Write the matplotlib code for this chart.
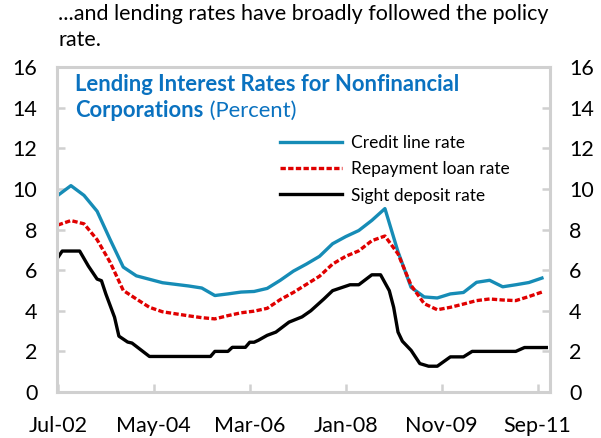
import matplotlib
matplotlib.use('Agg')
import matplotlib.pyplot as plt

# months counted from Jul-02 (0 = Jul-02)
tick_pos = [0, 22, 44, 66, 88, 110]
tick_labels = ['Jul-02', 'May-04', 'Mar-06', 'Jan-08', 'Nov-09', 'Sep-11']

credit_m = list(range(0, 112, 3))
credit = [9.68, 10.16, 9.68, 8.9, 7.5, 6.15, 5.72, 5.55, 5.38, 5.3, 5.22, 5.12,
          4.75, 4.83, 4.92, 4.95, 5.1, 5.5, 5.95, 6.3, 6.68, 7.3, 7.65, 7.95,
          8.45, 9.03, 6.9, 5.15, 4.68, 4.63, 4.83, 4.9, 5.4, 5.5, 5.18, 5.28,
          5.39, 5.61]

repay_m = list(range(0, 112, 3))
repay = [8.22, 8.44, 8.28, 7.5, 6.38, 5.0, 4.58, 4.17, 3.95, 3.85, 3.75, 3.66,
         3.6, 3.76, 3.9, 3.98, 4.12, 4.55, 4.9, 5.3, 5.7, 6.3, 6.68, 6.95,
         7.45, 7.68, 6.8, 5.25, 4.35, 4.05, 4.17, 4.33, 4.5, 4.58, 4.53, 4.5,
         4.7, 4.92]

sight_m = [0, 1, 5, 7, 9, 10, 11, 13, 14, 16, 17, 21, 35, 36, 39, 40, 43, 44,
           45, 46, 48, 50, 53, 56, 58, 61, 63, 67, 69, 72, 74, 76, 77, 78, 79,
           81, 83, 85, 87, 90, 93, 95, 105, 107, 112]
sight = [6.62, 6.94, 6.94, 6.2, 5.56, 5.48, 4.83, 3.68, 2.75, 2.46, 2.41, 1.75,
         1.75, 2.0, 2.0, 2.2, 2.2, 2.45, 2.45, 2.55, 2.79, 2.95, 3.44, 3.7,
         4.0, 4.58, 4.99, 5.28, 5.28, 5.77, 5.77, 4.99, 4.17, 2.95, 2.5, 2.05,
         1.4, 1.27, 1.27, 1.73, 1.73, 2.0, 2.0, 2.19, 2.19]

plt.rcParams['font.family'] = ['Lato', 'DejaVu Sans']

fig = plt.figure(figsize=(6.01, 4.38), dpi=100)
ax = fig.add_axes([0.0948, 0.105, 0.820, 0.742])

ax.plot(credit_m, credit, color='#168cb6', lw=2.4, label='Credit line rate')
ax.plot(repay_m, repay, color='#e00000', lw=2.4, ls=(0, (1.6, 0.7)),
        label='Repayment loan rate')
ax.plot(sight_m, sight, color='black', lw=2.4, label='Sight deposit rate')

ax.set_xlim(-0.2, 112.8)
ax.set_ylim(0, 16)
ax.set_yticks(range(0, 17, 2))
ax.set_xticks(tick_pos)
ax.set_xticklabels(tick_labels)

for s in ax.spines.values():
    s.set_color('#d0d0d0')
    s.set_linewidth(2.2)
ax.tick_params(axis='both', direction='in', color='#d0d0d0', width=1.8,
               length=6, labelsize=15.5)
ax.tick_params(axis='y', right=True, labelright=True, pad=14)
ax.tick_params(axis='x', pad=17)

ax.legend(loc='upper left', bbox_to_anchor=(0.438, 0.813), frameon=False,
          fontsize=12.5, handlelength=3.6, handletextpad=0.5,
          labelspacing=0.6, borderaxespad=0)

tcol = '#0a72c0'
ax.text(0.037, 0.978, 'Lending Interest Rates for Nonfinancial',
        transform=ax.transAxes, color=tcol, fontsize=15.8,
        fontweight='bold', va='top')
t2 = ax.text(0.037, 0.898, 'Corporations', transform=ax.transAxes,
             color=tcol, fontsize=15.8, fontweight='bold', va='top')
ax.annotate(' (Percent)', xy=(1, 0), xycoords=t2, color=tcol,
            fontsize=15.8, va='bottom', ha='left')

fig.text(0.097, 0.99, '...and lending rates have broadly followed the policy\nrate.',
         fontsize=15.5, va='top', ha='left', linespacing=1.35)

plt.savefig('out.png', dpi=100)
